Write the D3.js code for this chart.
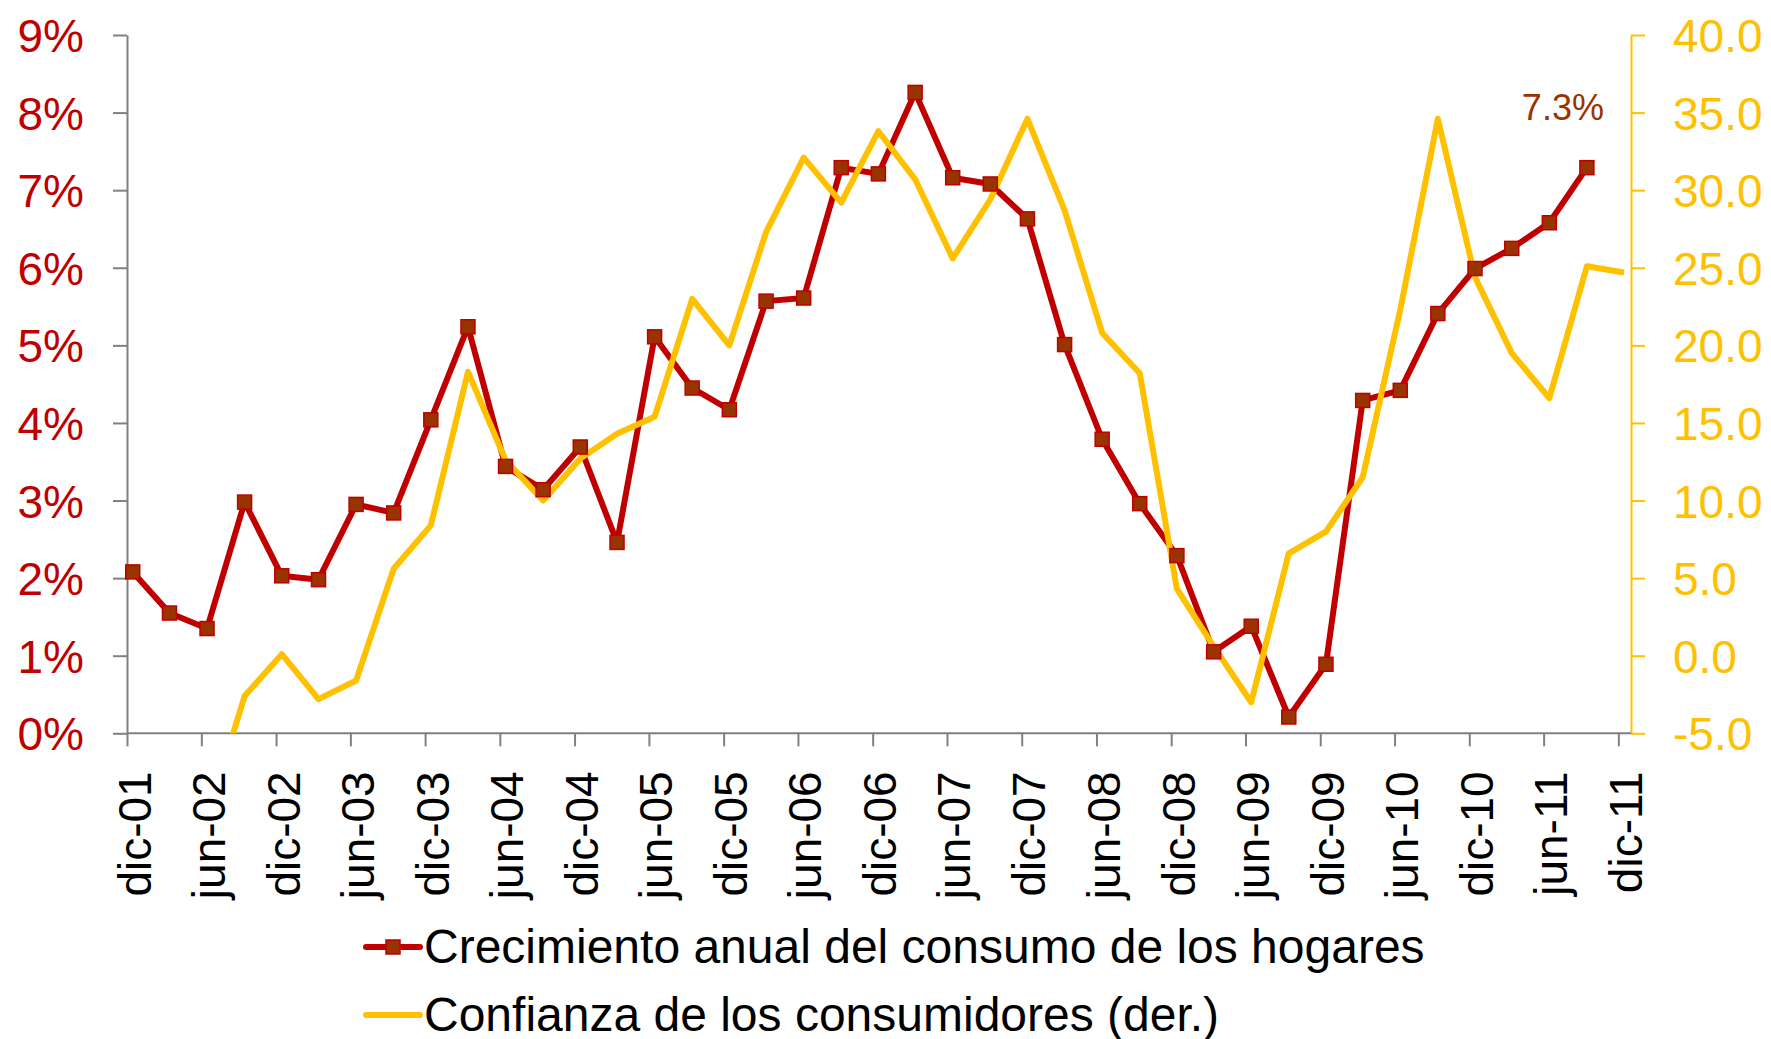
<!DOCTYPE html>
<html>
<head>
<meta charset="utf-8">
<script src="https://cdn.jsdelivr.net/npm/d3@7"></script>
<style>
  body { margin: 0; background: #fff; }
  svg { font-family: "Liberation Sans", Arial, sans-serif; }
</style>
</head>
<body>
<svg id="chart" width="1771" height="1039"></svg>
<script>
// quarterly observations (mid-month)
var periodos = [
  "2001-12-15", "2002-03-15", "2002-06-15", "2002-09-15", "2002-12-15",
  "2003-03-15", "2003-06-15", "2003-09-15", "2003-12-15", "2004-03-15",
  "2004-06-15", "2004-09-15", "2004-12-15", "2005-03-15", "2005-06-15",
  "2005-09-15", "2005-12-15", "2006-03-15", "2006-06-15", "2006-09-15",
  "2006-12-15", "2007-03-15", "2007-06-15", "2007-09-15", "2007-12-15",
  "2008-03-15", "2008-06-15", "2008-09-15", "2008-12-15", "2009-03-15",
  "2009-06-15", "2009-09-15", "2009-12-15", "2010-03-15", "2010-06-15",
  "2010-09-15", "2010-12-15", "2011-03-15", "2011-06-15", "2011-09-15",
  "2011-12-15"
];

// Crecimiento anual del consumo de los hogares (%)
var consumo = [
  2.08, 1.55, 1.35, 2.98, 2.03, 1.98, 2.95, 2.84, 4.04, 5.24,
  3.44, 3.14, 3.69, 2.46, 5.11, 4.45, 4.17, 5.57, 5.61, 7.29,
  7.21, 8.26, 7.16, 7.08, 6.63, 5.01, 3.79, 2.96, 2.29, 1.05,
  1.38, 0.21, 0.89, 4.29, 4.42, 5.41, 5.99, 6.25, 6.58, 7.29,
  null
];

// Confianza de los consumidores (eje derecho)
var confianza = [
  -8.5, -9.8, -10.5, -2.6, 0.1, -2.8, -1.6, 5.6, 8.4, 18.3,
  12.6, 10.0, 12.7, 14.3, 15.4, 23.0, 20.0, 27.3, 32.1, 29.2,
  33.8, 30.7, 25.6, 29.4, 34.6, 28.7, 20.8, 18.2, 4.3, 0.6,
  -3.0, 6.6, 8.0, 11.5, 22.3, 34.6, 24.4, 19.5, 16.6, 25.1,
  24.7
];

var seriesNames = ["Crecimiento anual del consumo de los hogares", "Confianza de los consumidores (der.)"];
var leftTicks = [0, 1, 2, 3, 4, 5, 6, 7, 8, 9];
var rightTicks = [-5, 0, 5, 10, 15, 20, 25, 30, 35, 40];
var mesesCortos = ["ene", "feb", "mar", "abr", "may", "jun", "jul", "ago", "sep", "oct", "nov", "dic"];

var red = "#C00000", brown = "#993300", yellow = "#FFC000", grey = "#808080";

var plot = { left: 127, right: 1631, top: 35, bottom: 733.3 };

var parse = d3.timeParse("%Y-%m-%d");
var fechas = periodos.map(parse);

var x = d3.scaleTime()
    .domain([new Date(2001, 11, 1), new Date(2012, 0, 1)])
    .range([plot.left, plot.right]);
var yL = d3.scaleLinear().domain([0, 9]).range([plot.bottom, plot.top]);
var yR = d3.scaleLinear().domain([-5, 40]).range([plot.bottom, plot.top]);

var tickDates = d3.timeMonth.range(new Date(2001, 11, 1), new Date(2011, 11, 2), 6);

var svg = d3.select("#chart");

svg.append("defs").append("clipPath").attr("id", "plotClip")
  .append("rect")
    .attr("x", plot.left)
    .attr("y", plot.top)
    .attr("width", plot.right - plot.left)
    .attr("height", plot.bottom - plot.top);

// left axis
var gL = svg.append("g")
    .attr("transform", "translate(" + plot.left + ",0)")
    .call(d3.axisLeft(yL).tickValues(leftTicks).tickSize(14).tickSizeOuter(0).tickPadding(29)
      .tickFormat(function(d) { return d + "%"; }));
gL.selectAll("path, line").attr("stroke", grey).attr("stroke-width", 2);
gL.selectAll("text").attr("fill", red).style("font-size", "46px").attr("dy", "0.36em");

// right axis
var gR = svg.append("g")
    .attr("transform", "translate(" + plot.right + ",0)")
    .call(d3.axisRight(yR).tickValues(rightTicks).tickSize(14).tickSizeOuter(0).tickPadding(28)
      .tickFormat(function(d) { return d.toFixed(1); }));
gR.selectAll("path, line").attr("stroke", yellow).attr("stroke-width", 2);
gR.selectAll("text").attr("fill", yellow).style("font-size", "46px").attr("dy", "0.36em");

// bottom axis
var gX = svg.append("g")
    .attr("transform", "translate(0," + plot.bottom + ")")
    .call(d3.axisBottom(x).tickValues(tickDates).tickSize(13).tickSizeOuter(0)
      .tickFormat(function(d) {
        return mesesCortos[d.getMonth()] + "-" + d3.timeFormat("%y")(d);
      }));
gX.select(".domain").attr("d", "M" + plot.left + ",0H" + plot.right);
gX.selectAll("path, line").attr("stroke", grey).attr("stroke-width", 2);
gX.selectAll("text")
    .attr("fill", "#000")
    .style("font-size", "46px")
    .attr("text-anchor", "end")
    .attr("transform", "rotate(-90)")
    .attr("x", -38)
    .attr("y", 23)
    .attr("dy", 0);

var series = fechas.map(function(d, i) { return { fecha: d, consumo: consumo[i], confianza: confianza[i] }; });

var lineConsumo = d3.line()
    .defined(function(d) { return d.consumo != null; })
    .x(function(d) { return x(d.fecha); })
    .y(function(d) { return yL(d.consumo); });

var lineConfianza = d3.line()
    .defined(function(d) { return d.confianza != null; })
    .x(function(d) { return x(d.fecha); })
    .y(function(d) { return yR(d.confianza); });

var plotG = svg.append("g").attr("clip-path", "url(#plotClip)");

plotG.append("path")
    .datum(series)
    .attr("fill", "none")
    .attr("stroke", red)
    .attr("stroke-width", 6)
    .attr("stroke-linejoin", "round")
    .attr("d", lineConsumo);

var mk = 14;
svg.append("g").selectAll("rect")
    .data(series.filter(function(d) { return d.consumo != null; }))
  .enter().append("rect")
    .attr("x", function(d) { return x(d.fecha) - mk / 2; })
    .attr("y", function(d) { return yL(d.consumo) - mk / 2; })
    .attr("width", mk)
    .attr("height", mk)
    .attr("fill", brown)
    .attr("stroke", red)
    .attr("stroke-width", 1.5);

plotG.append("path")
    .datum(series)
    .attr("fill", "none")
    .attr("stroke", yellow)
    .attr("stroke-width", 6)
    .attr("stroke-linejoin", "round")
    .attr("d", lineConfianza);

// label on the last value of consumption
var last = series.filter(function(d) { return d.consumo != null; }).pop();
svg.append("text")
    .attr("x", x(last.fecha) - 24)
    .attr("y", yL(last.consumo) - 48)
    .attr("text-anchor", "middle")
    .attr("fill", brown)
    .style("font-size", "36px")
    .text(last.consumo.toFixed(1) + "%");

// legend
var legend = svg.append("g");
var rows = [
  { name: seriesNames[0], color: red, marker: true, y: 947 },
  { name: seriesNames[1], color: yellow, marker: false, y: 1015 }
];
rows.forEach(function(r) {
  legend.append("line")
      .attr("x1", 366).attr("x2", 420)
      .attr("y1", r.y).attr("y2", r.y)
      .attr("stroke", r.color)
      .attr("stroke-width", 6)
      .attr("stroke-linecap", "round");
  if (r.marker) {
    legend.append("rect")
        .attr("x", 393 - mk / 2).attr("y", r.y - mk / 2)
        .attr("width", mk).attr("height", mk)
        .attr("fill", brown).attr("stroke", red).attr("stroke-width", 1.5);
  }
  legend.append("text")
      .attr("x", 424)
      .attr("y", r.y + 16)
      .attr("fill", "#000")
      .style("font-size", "48px")
      .text(r.name);
});
</script>
</body>
</html>
